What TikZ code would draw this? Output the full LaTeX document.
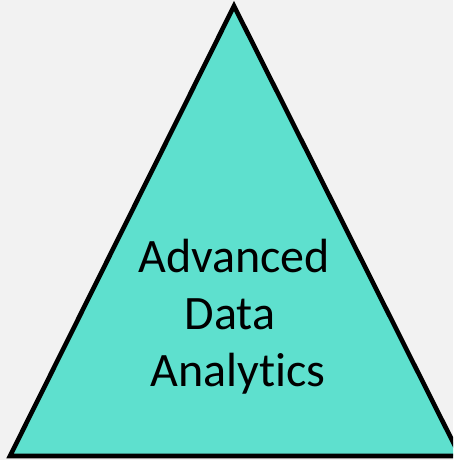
\documentclass[tikz,border=0pt]{standalone}
\usepackage{fontspec}
\setmainfont[Ligatures={NoCommon,NoRare,NoContextual}]{Carlito}
\definecolor{bgc}{HTML}{F2F2F2}
\definecolor{tri}{HTML}{5EE0CE}
\tikzset{
  lbl/.style={anchor=base, inner sep=0pt, font=\fontsize{48}{57}\selectfont, text=black},
  trif/.style={fill=tri, draw=black, line width=4.6pt, line join=miter}
}
\begin{document}
\begin{tikzpicture}[x=1pt,y=1pt]
\useasboundingbox (0,0) rectangle (453,460);
\clip (0,0) rectangle (453,460);
\fill[bgc] (0,0) rectangle (453,460);
\coordinate (apex) at (234,454);
\coordinate (bl) at (10,4);
\coordinate (br) at (460,4);
\draw[trif] (apex) -- (bl) -- (br) -- cycle;
\node[lbl] (l1) at (234,187) {Advanced};
\node[lbl] (l2) at (230,130) {Data};
\node[lbl] (l3) at (238,73) {Analyt\kern0pt ics};
\end{tikzpicture}
\end{document}
